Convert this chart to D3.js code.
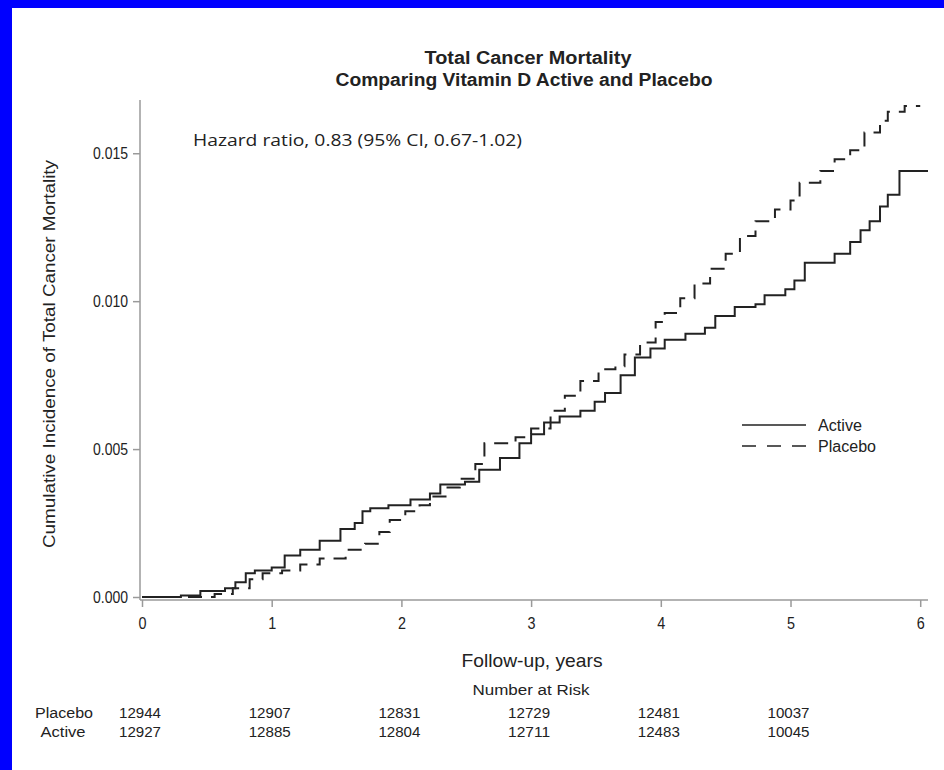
<!DOCTYPE html>
<html>
<head>
<meta charset="utf-8">
<script src="https://cdn.jsdelivr.net/npm/d3@7"></script>
<style>
  body { margin: 0; background: #0000ff; }
  svg { display: block; }
  text { font-family: "Liberation Sans", Arial, sans-serif; fill: #222; }
</style>
</head>
<body>
<svg id="chart"></svg>
<script>
var width = 944;
var height = 770;

// Kaplan-Meier style step data
var activeTime = [0, 0.3, 0.45, 0.64, 0.72, 0.8, 0.87, 1.0, 1.1, 1.22, 1.37, 1.53, 1.64, 1.7, 1.76, 1.9, 2.07, 2.22, 2.3, 2.49, 2.6, 2.76, 2.91, 3.0, 3.1, 3.22, 3.38, 3.49, 3.57, 3.69, 3.8, 3.92, 4.03, 4.19, 4.34, 4.42, 4.57, 4.73, 4.8, 4.96, 5.03, 5.11, 5.34, 5.46, 5.54, 5.61, 5.69, 5.75, 5.84, 6.06];
var activeValue = [0, 0.00005, 0.0002, 0.0003, 0.0005, 0.0008, 0.0009, 0.0010, 0.0014, 0.0016, 0.0019, 0.0023, 0.0025, 0.0029, 0.0030, 0.0031, 0.0033, 0.0035, 0.0038, 0.0039, 0.0043, 0.0047, 0.0052, 0.0055, 0.0059, 0.0061, 0.0063, 0.0066, 0.0069, 0.0075, 0.0081, 0.0084, 0.0087, 0.0089, 0.0091, 0.0095, 0.0098, 0.0099, 0.0102, 0.0104, 0.0107, 0.0113, 0.0116, 0.0120, 0.0124, 0.0127, 0.0132, 0.0136, 0.0144, 0.0144];

var placeboTime = [0, 0.56, 0.7, 0.83, 0.93, 1.08, 1.22, 1.37, 1.57, 1.72, 1.83, 1.91, 2.03, 2.14, 2.22, 2.34, 2.45, 2.57, 2.64, 2.88, 3.0, 3.15, 3.26, 3.38, 3.52, 3.65, 3.72, 3.84, 3.96, 4.03, 4.15, 4.26, 4.38, 4.5, 4.61, 4.73, 4.88, 5.0, 5.07, 5.23, 5.34, 5.46, 5.57, 5.69, 5.75, 5.88, 6.0];
var placeboValue = [0, 0.0001, 0.0003, 0.0006, 0.0008, 0.0009, 0.0011, 0.0013, 0.0016, 0.0018, 0.0022, 0.0026, 0.0029, 0.0031, 0.0034, 0.0037, 0.0040, 0.0045, 0.0052, 0.0054, 0.0057, 0.0063, 0.0068, 0.0073, 0.0077, 0.0078, 0.0082, 0.0086, 0.0093, 0.0096, 0.0101, 0.0106, 0.0111, 0.0116, 0.0122, 0.0127, 0.0131, 0.0134, 0.0140, 0.0144, 0.0148, 0.0151, 0.0157, 0.0161, 0.0164, 0.0166, 0.0166];

// Number at risk table
var riskYears = [0, 1, 2, 3, 4, 5];
var placeboRisk = [12944, 12907, 12831, 12729, 12481, 10037];
var activeRisk = [12927, 12885, 12804, 12711, 12483, 10045];

var xTicks = [0, 1, 2, 3, 4, 5, 6];
var yTicks = [0, 0.005, 0.010, 0.015];

var svg = d3.select("#chart")
    .attr("width", width)
    .attr("height", height);

// white page inside the blue frame
svg.append("rect")
    .attr("x", 12).attr("y", 8)
    .attr("width", width - 12).attr("height", height - 8)
    .attr("fill", "#fff");

// scales
var x = d3.scaleLinear().domain([0, 6.06]).range([142, 928]);
var y = d3.scaleLinear().domain([0, 0.0168]).range([597, 100]);

// helper: narrow look by squeezing text into a measured width
function squeeze(sel, len) {
    sel.attr("textLength", len).attr("lengthAdjust", "spacingAndGlyphs");
    return sel;
}

// title
squeeze(svg.append("text")
    .attr("x", 528).attr("y", 64)
    .attr("text-anchor", "middle")
    .style("font-size", "18px").style("font-weight", "bold")
    .text("Total Cancer Mortality"), 207);
squeeze(svg.append("text")
    .attr("x", 524).attr("y", 86)
    .attr("text-anchor", "middle")
    .style("font-size", "18px").style("font-weight", "bold")
    .text("Comparing Vitamin D Active and Placebo"), 377);

// y axis
var yAxis = svg.append("g")
    .attr("transform", "translate(140,0)")
    .call(d3.axisLeft(y).tickValues(yTicks).tickFormat(d3.format(".3f")).tickSize(7).tickPadding(5));
yAxis.select(".domain").attr("d", "M0,100V600");

// x axis
var xAxis = svg.append("g")
    .attr("transform", "translate(0,600)")
    .call(d3.axisBottom(x).tickValues(xTicks).tickFormat(d3.format("d")).tickSize(7).tickPadding(11));
xAxis.select(".domain").attr("d", "M140,0H928");

svg.selectAll(".domain, .tick line").attr("stroke", "#9a9a9a").attr("stroke-width", 1.5);
svg.selectAll(".tick text").style("font-size", "16px").style("font-family", null).attr("fill", "#222");
yAxis.selectAll(".tick text").attr("textLength", 35).attr("lengthAdjust", "spacingAndGlyphs");
xAxis.selectAll(".tick text").attr("textLength", 8).attr("lengthAdjust", "spacingAndGlyphs");

// axis titles
squeeze(svg.append("text")
    .attr("transform", "translate(55,354) rotate(-90)")
    .attr("text-anchor", "middle")
    .style("font-size", "17px")
    .text("Cumulative Incidence of Total Cancer Mortality"), 388);
squeeze(svg.append("text")
    .attr("x", 532).attr("y", 667)
    .attr("text-anchor", "middle")
    .style("font-size", "19px")
    .text("Follow-up, years"), 141);

// hazard ratio note
squeeze(svg.append("text")
    .attr("x", 193).attr("y", 146)
    .style("font-family", "'Open Sans', sans-serif")
    .style("font-size", "17px")
    .text("Hazard ratio, 0.83 (95% CI, 0.67-1.02)"), 329);

// curves
var line = d3.line()
    .x(function (d) { return x(d[0]); })
    .y(function (d) { return y(d[1]); })
    .curve(d3.curveStepAfter);

var activeData = d3.zip(activeTime, activeValue);
var placeboData = d3.zip(placeboTime, placeboValue);

svg.append("path")
    .datum(placeboData)
    .attr("d", line)
    .attr("fill", "none")
    .attr("stroke", "#222")
    .attr("stroke-width", 2)
    .attr("stroke-dasharray", "14,9");

svg.append("path")
    .datum(activeData)
    .attr("d", line)
    .attr("fill", "none")
    .attr("stroke", "#222")
    .attr("stroke-width", 2);

// legend
var legend = svg.append("g").attr("transform", "translate(742,0)");
legend.append("line")
    .attr("x1", 0).attr("x2", 64).attr("y1", 425).attr("y2", 425)
    .attr("stroke", "#222").attr("stroke-width", 1.5);
legend.append("line")
    .attr("x1", 0).attr("x2", 64).attr("y1", 446).attr("y2", 446)
    .attr("stroke", "#222").attr("stroke-width", 1.5)
    .attr("stroke-dasharray", "14,11");
squeeze(legend.append("text").attr("x", 76).attr("y", 431).style("font-size", "16px").text("Active"), 44);
squeeze(legend.append("text").attr("x", 76).attr("y", 452).style("font-size", "16px").text("Placebo"), 58);

// number at risk
squeeze(svg.append("text")
    .attr("x", 531).attr("y", 695)
    .attr("text-anchor", "middle")
    .style("font-size", "14px")
    .text("Number at Risk"), 117);

squeeze(svg.append("text").attr("x", 64).attr("y", 718).attr("text-anchor", "middle")
    .style("font-size", "14px").text("Placebo"), 58);
squeeze(svg.append("text").attr("x", 63).attr("y", 737).attr("text-anchor", "middle")
    .style("font-size", "14px").text("Active"), 45);

svg.selectAll(".riskP")
    .data(riskYears)
    .enter().append("text")
    .attr("class", "riskP")
    .attr("x", function (d) { return x(d) - 2; })
    .attr("y", 718)
    .attr("text-anchor", "middle")
    .style("font-size", "14px")
    .attr("textLength", 42).attr("lengthAdjust", "spacingAndGlyphs")
    .text(function (d, i) { return placeboRisk[i]; });

svg.selectAll(".riskA")
    .data(riskYears)
    .enter().append("text")
    .attr("class", "riskA")
    .attr("x", function (d) { return x(d) - 2; })
    .attr("y", 737)
    .attr("text-anchor", "middle")
    .style("font-size", "14px")
    .attr("textLength", 42).attr("lengthAdjust", "spacingAndGlyphs")
    .text(function (d, i) { return activeRisk[i]; });
</script>
</body>
</html>
